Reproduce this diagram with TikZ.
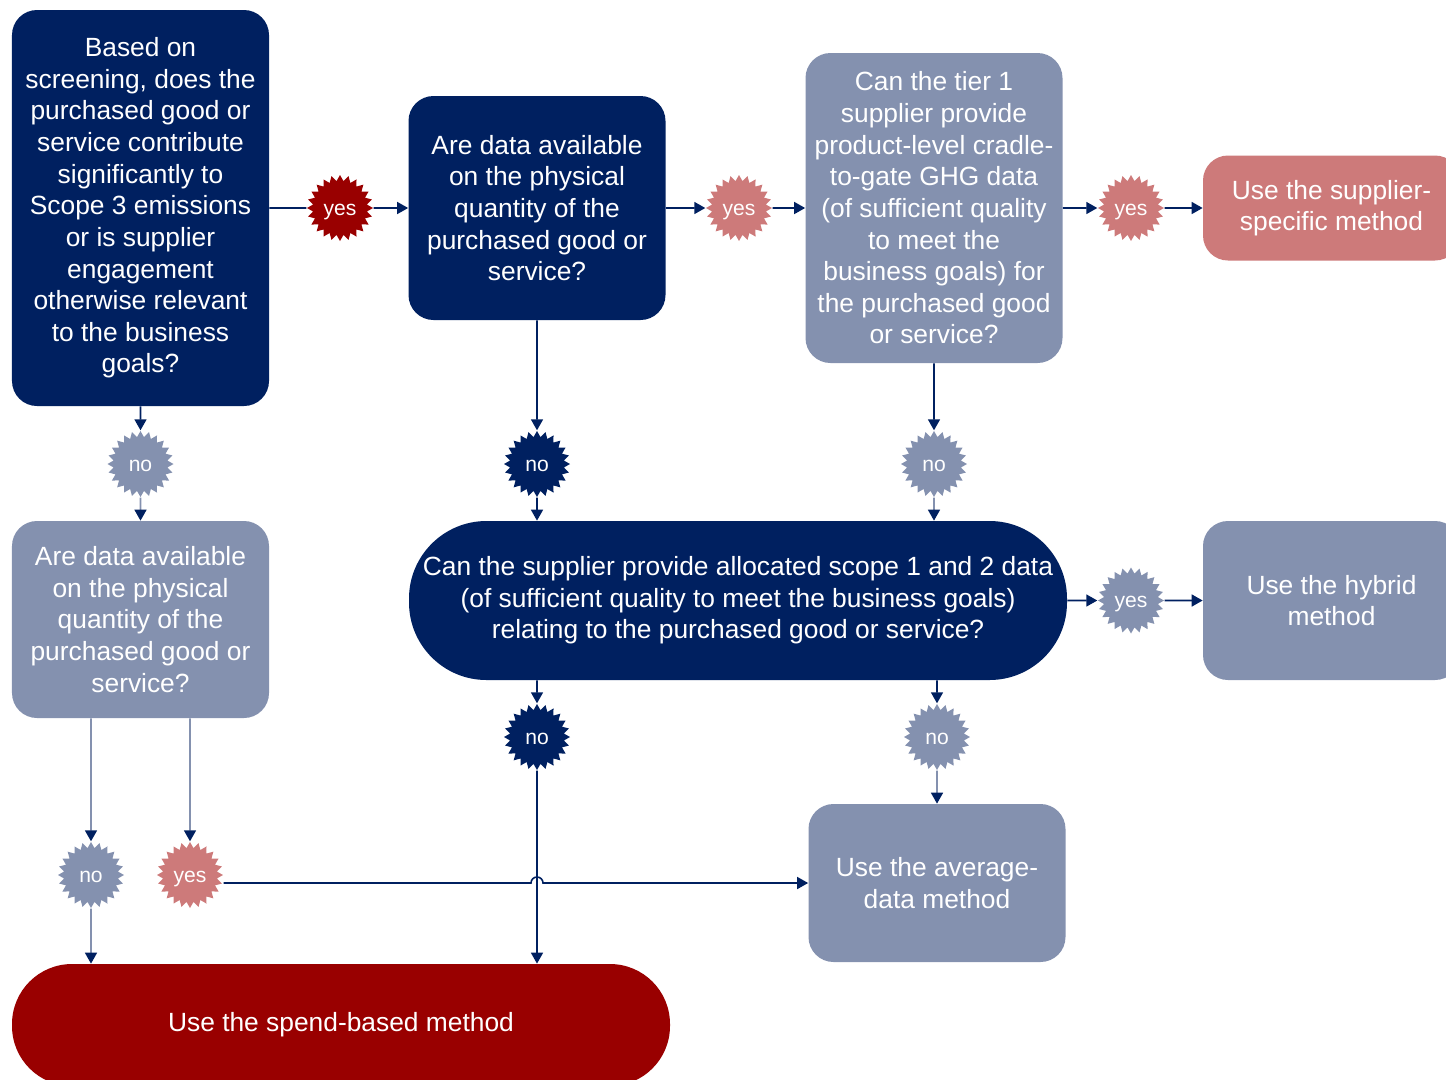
\documentclass[tikz,border=0pt]{standalone}
\usepackage{fontspec}
\setmainfont{Liberation Sans}
\usetikzlibrary{shapes.geometric, arrows.meta, calc}
\definecolor{navy}{RGB}{0,32,96}
\definecolor{slate}{RGB}{132,145,175}
\definecolor{rose}{RGB}{205,122,122}
\definecolor{crimson}{RGB}{153,0,0}

\begin{document}
\begin{tikzpicture}[
    box/.style={rounded corners=0.5cm, text=white, align=center, font=\fontsize{15}{18}\selectfont, minimum width=5.14cm},
    burst/.style={star, star points=24, star point ratio=1.22, minimum size=1.32cm, inner sep=0pt, text=white, text height=1.6ex, text depth=0pt, font=\fontsize{12}{14}\selectfont},
    ln/.style={draw=navy, line width=0.9pt},
    arr/.style={ln, -{Triangle[length=0.22cm, width=0.24cm, color=navy]}}
  ]
    \useasboundingbox (0,0) rectangle (28.92,-21.58);

    % questions
    \node[box, fill=navy, minimum height=7.92cm] (screen) at (2.81,-4.16)
      {Based on\\screening, does the\\purchased good or\\service contribute\\significantly to\\Scope 3 emissions\\or is supplier\\engagement\\otherwise relevant\\to the business\\goals?};
    \node[box, fill=navy, minimum height=4.48cm] (physA) at (10.74,-4.16)
      {Are data available\\on the physical\\quantity of the\\purchased good or\\service?};
    \node[box, fill=slate, minimum height=6.20cm] (tier) at (18.68,-4.16)
      {Can the tier 1\\supplier provide\\product-level cradle-\\to-gate GHG data\\(of sufficient quality\\to meet the\\business goals) for\\the purchased good\\or service?};
    \node[box, fill=slate, minimum height=3.94cm] (physB) at (2.81,-12.39)
      {Are data available\\on the physical\\quantity of the\\purchased good or\\service?};
    \node[box, fill=navy, rounded corners=1.55cm, minimum width=13.16cm, minimum height=3.18cm] (alloc) at (14.76,-12.01)
      {Can the supplier provide allocated scope 1 and 2 data\\(of sufficient quality to meet the business goals)\\relating to the purchased good or service?};

    % methods
    \node[box, fill=rose, minimum height=2.10cm] (supplier) at (26.63,-4.16) {Use the supplier-\\specific method};
    \node[box, fill=slate, minimum height=3.18cm] (hybrid) at (26.63,-12.01) {Use the hybrid\\method};
    \node[box, fill=slate, minimum height=3.16cm] (average) at (18.74,-17.66) {Use the average-\\data method};
    \node[box, fill=crimson, rounded corners=1.2cm, minimum width=13.16cm, minimum height=2.44cm] (spend) at (6.82,-20.50) {Use the spend-based method};

    % answers
    \node[burst, fill=crimson] (yesA) at (6.80,-4.16)  {yes};
    \node[burst, fill=rose]    (yesB) at (14.78,-4.16) {yes};
    \node[burst, fill=rose]    (yesC) at (22.62,-4.16) {yes};
    \node[burst, fill=slate]   (yesD) at (22.62,-12.01) {yes};
    \node[burst, fill=rose]    (yesE) at (3.80,-17.50) {yes};
    \node[burst, fill=slate]   (noA)  at (2.81,-9.28)  {no};
    \node[burst, fill=navy]    (noB)  at (10.74,-9.28) {no};
    \node[burst, fill=slate]   (noC)  at (18.68,-9.28) {no};
    \node[burst, fill=navy]    (noD)  at (10.74,-14.74) {no};
    \node[burst, fill=slate]   (noE)  at (18.74,-14.74) {no};
    \node[burst, fill=slate]   (noF)  at (1.82,-17.50) {no};

    % yes branches
    \draw[ln]  (screen) -- (yesA);
    \draw[arr] (yesA) -- (physA);
    \draw[arr] (physA) -- (yesB);
    \draw[arr] (yesB) -- (tier);
    \draw[arr] (tier) -- (yesC);
    \draw[arr] (yesC) -- (supplier);
    \draw[arr] (alloc) -- (yesD);
    \draw[arr] (yesD) -- (hybrid);

    % no branches
    \draw[arr] (screen) -- (noA);
    \draw[arr, draw=slate] (noA) -- (physB);
    \draw[arr] (physA) -- (noB);
    \draw[arr] (noB) -- (noB |- alloc.north);
    \draw[arr] (tier) -- (noC);
    \draw[arr, draw=slate] (noC) -- (noC |- alloc.north);
    \draw[arr] (noD |- alloc.south) -- (noD);
    \draw[arr] (noD) -- (noD |- spend.north);
    \draw[arr] (noE |- alloc.south) -- (noE);
    \draw[arr, draw=slate] (noE) -- (average);
    \draw[arr, draw=slate] (noF |- physB.south) -- (noF);
    \draw[arr, draw=slate] (noF) -- (noF |- spend.north);
    \draw[arr, draw=slate] (yesE |- physB.south) -- (yesE);
    \draw[arr] (yesE.east |- average.west) -- ($(noD |- average.west)+(-0.12,0)$)
      arc[start angle=180, end angle=0, radius=0.12cm] -- (average.west);
  \end{tikzpicture}
\end{document}
